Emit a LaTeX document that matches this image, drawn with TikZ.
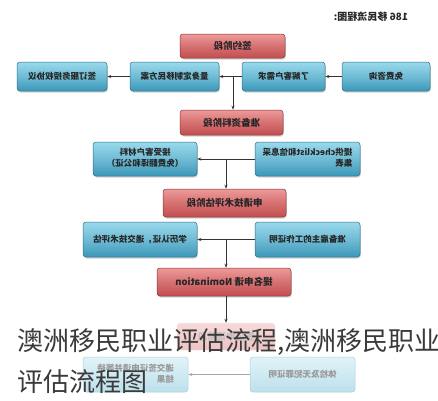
\documentclass[tikz,border=0pt]{standalone}
\usepackage{fontspec}
\usepackage{graphicx}
\newfontfamily\cjk{Noto Sans CJK SC}
\usetikzlibrary{arrows.meta,shadows}
\newcommand\mir[1]{\reflectbox{#1}}
\definecolor{bluetop}{HTML}{9AD9EC}
\definecolor{bluebot}{HTML}{3B97B8}
\definecolor{blueline}{HTML}{2E6F8A}
\definecolor{redtop}{HTML}{EE9A9A}
\definecolor{redbot}{HTML}{C24E50}
\definecolor{redline}{HTML}{8A3434}
\definecolor{fadebluetop}{HTML}{E2F3F8}
\definecolor{fadebluebot}{HTML}{BCE0EB}
\definecolor{fadeblueline}{HTML}{A8D0DD}
\definecolor{faderedtop}{HTML}{F7DADA}
\definecolor{faderedbot}{HTML}{EEC2C2}
\definecolor{overlay}{HTML}{3A3A3A}
\tikzset{
  bluebox/.style={draw=blueline, line width=0.5pt, rounded corners=3pt,
    top color=bluetop, bottom color=bluebot, middle color=bluetop!55!bluebot,
    drop shadow={opacity=0.35, shadow xshift=0.8pt, shadow yshift=-1.5pt},
    font=\cjk\bfseries\fontsize{8.5}{11}\selectfont, text=black!85, inner sep=1pt, align=center},
  redbox/.style={draw=redline, line width=0.5pt, rounded corners=3pt,
    top color=redtop, bottom color=redbot, middle color=redtop!45!redbot,
    drop shadow={opacity=0.35, shadow xshift=0.8pt, shadow yshift=-1.5pt},
    font=\cjk\bfseries\fontsize{9.5}{11}\selectfont, text=black!85, inner sep=1pt},
  fadeblue/.style={draw=fadeblueline, line width=0.5pt, rounded corners=3pt,
    top color=fadebluetop, bottom color=fadebluebot,
    font=\cjk\bfseries\fontsize{8.5}{11}\selectfont, text=black!40, inner sep=1pt, align=center},
  fadered/.style={draw=faderedbot!80!black!20, line width=0.5pt, rounded corners=3pt,
    top color=faderedtop, bottom color=faderedbot,
    font=\cjk\bfseries\fontsize{9.5}{11}\selectfont, text=black!25, inner sep=1pt},
  arr/.style={draw=black!80, line width=0.6pt, -{Stealth[length=4pt,width=3pt]}},
  lin/.style={draw=black!80, line width=0.6pt},
  fadearr/.style={draw=black!35, line width=0.6pt, -{Stealth[length=4pt,width=3pt]}},
  bigtext/.style={font=\cjk\fontsize{26}{41}\selectfont, text=overlay, inner sep=0pt, anchor=base west}
}
\begin{document}
\begin{tikzpicture}[x=1pt,y=-1pt]
\useasboundingbox (0,0) rectangle (438,400);
\clip (0,0) rectangle (438,400);
\fill[white] (0,0) rectangle (438,400);
% title
\node[font=\cjk\bfseries\fontsize{10}{12}\selectfont, text=black!85] (title) at (371,17) {\mir{186 移民流程图:}};
% row 0
\node[redbox, minimum width=105pt, minimum height=24pt] (r1) at (232.5,46) {\mir{签约阶段}};
% row 1
\node[bluebox, minimum width=90pt, minimum height=29pt] (b1a) at (62,76.5) {\mir{签订服务授权协议}};
\node[bluebox, minimum width=89pt, minimum height=29pt] (b1b) at (174.5,76.5) {\mir{量身定制移民方案}};
\node[bluebox, minimum width=83pt, minimum height=29pt] (b1c) at (283.5,76.5) {\mir{了解客户需求}};
\node[bluebox, minimum width=88pt, minimum height=29pt] (b1d) at (386,76.5) {\mir{免费咨询}};
\node[redbox, minimum width=103pt, minimum height=25pt] (r2) at (231.5,122.5) {\mir{准备资料阶段}};
% row 2
\node[bluebox, minimum width=104pt, minimum height=34pt] (b2a) at (145,159) {\mir{\begin{tabular}{@{}c@{}}接受客户材料\\（免费翻译和公证）\end{tabular}}};
\node[bluebox, minimum width=105pt, minimum height=34pt] (b2b) at (307.5,159) {\mir{\begin{tabular}{@{}l@{}}提供checklist和信息采\\集表\end{tabular}}};
\node[redbox, minimum width=123pt, minimum height=28pt] (r3) at (224.5,203) {\mir{申请技术评估阶段}};
% row 3
\node[bluebox, minimum width=114pt, minimum height=35pt] (b3a) at (140,239.5) {\mir{学历认证，递交技术评估}};
\node[bluebox, minimum width=105pt, minimum height=35pt] (b3b) at (307.5,239.5) {\mir{准备雇主的工作证明}};
\node[redbox, minimum width=134pt, minimum height=28pt] (r4) at (224,282) {\mir{提名申请 Nomination}};
% row 5 (faded)
\node[fadered, minimum width=98pt, minimum height=27pt] (r5) at (226,336.5) {\mir{签证申请阶段}};
\node[fadeblue, minimum width=105pt, minimum height=35pt] (b5a) at (135.5,374.5) {\mir{\begin{tabular}{@{}l@{}}递交签证申请并等待\\结果\end{tabular}}};
\node[fadeblue, minimum width=105pt, minimum height=35pt] (b5b) at (302.5,374.5) {\mir{体检及无犯罪证明}};
% junctions
\coordinate (j1) at (233,76.5);
\coordinate (j2) at (226,159);
\coordinate (j3) at (226,239.5);
% connectors
\draw[arr] (b1d.west) -- (b1c.east);
\draw[arr] (b1c.west) -- (b1b.east);
\draw[arr] (b1b.west) -- (b1a.east);
\draw[arr] (j1) -- (j1 |- r2.north);
\draw[arr] (b2b.west) -- (b2a.east);
\draw[arr] (j2) -- (j2 |- r3.north);
\draw[arr] (b3b.west) -- (b3a.east);
\draw[arr] (j3) -- (j3 |- r4.north);
\draw[arr] (j3 |- r4.south) -- (j3 |- r5.north);
\draw[fadearr] (b5b.west) -- (b5a.east);
% overlay caption
\node[bigtext] (cap1) at (17,350) {澳洲移民职业评估流程,澳洲移民职业};
\node[bigtext] (cap2) at (17,391) {评估流程图};
\end{tikzpicture}
\end{document}
